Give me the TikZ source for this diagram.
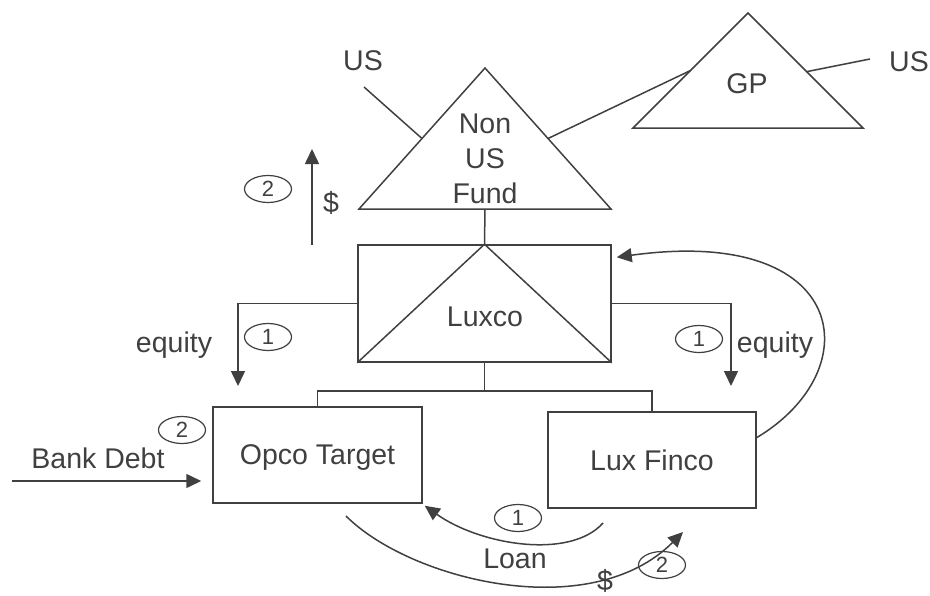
\documentclass[tikz,border=0pt]{standalone}
\usepackage{fontspec}
\setmainfont{Liberation Sans}
\usetikzlibrary{arrows.meta,calc,shapes.geometric,positioning}
\definecolor{ink}{HTML}{404040}

\begin{document}
\begin{tikzpicture}[x=1pt, y=-1pt, line width=1.5pt, color=ink,
    font=\fontsize{28.5}{35}\selectfont, >={Triangle[length=15pt,width=14pt]}]
            \tikzstyle{block} = [draw, rectangle, inner sep=0pt, text depth=0pt]
            \tikzstyle{stepno} = [draw, ellipse, line width=1.2pt, inner sep=0pt,
                minimum width=47pt, minimum height=27pt, font=\fontsize{22}{24}\selectfont]
            \tikzstyle{lbl} = [anchor=base, inner sep=0pt]
            \useasboundingbox (0,0) rectangle (930,595);

            % funds
            \coordinate (fundT) at (485,68);
            \coordinate (fundL) at (359,209);
            \coordinate (fundR) at (611,209);
            \draw (fundL) -- (fundT) -- (fundR) -- cycle;
            \node [align=center, inner sep=0pt] (fund) at (485,159) {Non\\US\\Fund};
            \coordinate (gpT) at (748,13);
            \coordinate (gpL) at (633,128);
            \coordinate (gpR) at (863,128);
            \draw (gpL) -- (gpT) -- (gpR) -- cycle;
            \node [lbl] (gp) at (747,93) {GP};

            \node [lbl] (usA) at (363,70) {US};
            \coordinate (usAend) at (364,87);
            \node [lbl] (usB) at (909,71) {US};
            \coordinate (usBend) at (870,59);
            \draw (usAend) -- ($(fundL)!0.5!(fundT)$);
            \draw ($(fundR)!0.5!(fundT)$) -- ($(gpL)!0.5!(gpT)$);
            \draw ($(gpR)!0.49!(gpT)$) -- (usBend);

            % companies
            \node [block, minimum width=253pt, minimum height=117pt] (luxco) at (484.5,303.5) {};
            \draw (luxco.south west) -- (luxco.north) -- (luxco.south east);
            \node [lbl] (luxcoLbl) at (485,326) {Luxco};
            \draw ($(fundL)!0.5!(fundR)$) -- (luxco.north);
            \node [block, minimum width=209pt, minimum height=96pt] (opco) at (317.5,455) {Opco Target};
            \node [block, minimum width=208pt, minimum height=96pt] (finco) at (652,460) {Lux Finco};
            \draw (luxco.south) -- ++(0,28) coordinate (split);
            \draw (opco.north) |- (split) -| (finco.north);

            % step 1
            \coordinate (eqL) at (238,386);
            \coordinate (eqR) at (731,386);
            \draw [->] (luxco.west) -| (eqL);
            \draw [->] (luxco.east) -| (eqR);
            \node [lbl] (eqLlbl) at (174,352) {equity};
            \node [stepno] (s1a) at (268,337) {1};
            \node [lbl] (eqRlbl) at (775,352) {equity};
            \node [stepno] (s1b) at (699,339) {1};
            \coordinate (loanS) at (603,523);
            \draw [->] (loanS) .. controls (570,560) and (480,545) .. ($(opco.south east)+(2,2)$);
            \node [stepno] (s1c) at (518,518) {1};
            \node [lbl] (loan) at (515,568) {Loan};
            \draw [->] ($(finco.north east)!0.27!(finco.south east)$)
                .. controls (870,370) and (850,225) .. ($(luxco.north east)+(5,13)$);

            % step 2
            \coordinate (bank) at (12,481);
            \draw [->, shorten >=11pt] (bank) -- (bank -| opco.west);
            \node [lbl] (bankLbl) at (98,468) {Bank Debt};
            \node [stepno] (s2a) at (182,430) {2};
            \coordinate (payS) at (312,245);
            \coordinate (payE) at (312,149);
            \draw [->] (payS) -- (payE);
            \node (payLbl) at (331,203) {\$};
            \node [stepno] (s2b) at (268,189) {2};
            \coordinate (repS) at (346,516);
            \coordinate (repE) at (683,532);
            \draw [->] (repS) .. controls (410,580) and (590,625) .. (repE);
            \node [inner sep=0pt] (repLbl) at (605,581) {\$};
            \node [stepno] (s2c) at (662,565) {2};
\end{tikzpicture}
\end{document}
